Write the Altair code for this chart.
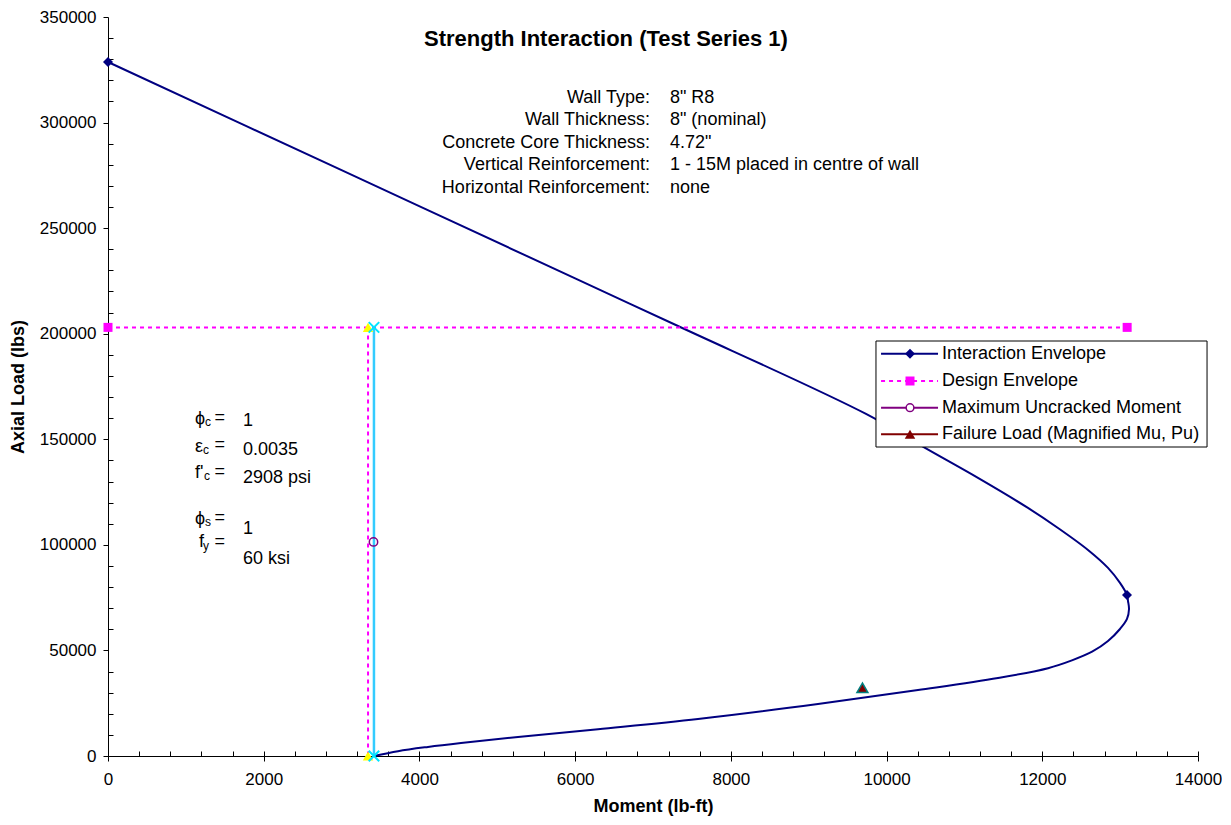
import altair as alt
import pandas as pd

# ---------------- data ----------------
env_moment = [0, 3000, 6000, 7321, 9736, 10494, 11174, 11816, 12202, 12587, 12844, 12998, 13088,
              13101, 13114, 13088, 12998, 12844, 12640, 12380, 12074, 11431, 10404, 9119, 7578,
              6294, 5266, 4534, 4110, 3725, 3416]
env_load = [328700, 277450, 226200, 203650, 162000, 145900, 131700, 117500, 108000, 97600,
            89100, 82000, 76250, 73400, 69600, 64900, 60150, 54450, 49400, 45300, 41600, 36950,
            31260, 24630, 17520, 12700, 9000, 6150, 4300, 2300, 0]
env_marker_moment = [0, 13088]
env_marker_load = [328700, 76250]

design_moment = [0, 13090]
design_load = [203000, 203000]

applied_moment = [3340, 3340]
applied_load = [203000, 0]

capacity_moment = [3416, 3416]
capacity_load = [203000, 0]

uncracked_moment = [3410]
uncracked_load = [101400]

failure_moment = [9690]
failure_load = [32300]

x_major = list(range(0, 14001, 2000))
x_minor = list(range(0, 14001, 400))
y_major = list(range(0, 350001, 50000))
y_minor = [v for v in range(0, 350001, 10000) if v % 50000]

title_text = "Strength Interaction (Test Series 1)"
info_labels = ["Wall Type:", "Wall Thickness:", "Concrete Core Thickness:",
               "Vertical Reinforcement:", "Horizontal Reinforcement:"]
info_values = ['8" R8', '8" (nominal)', '4.72"', "1 - 15M placed in centre of wall", "none"]
info_rows = [311636, 301216, 290323, 279904, 269010]

sym_main = ["ϕ", "ε", "f'", "ϕ", "f"]
sym_sub = ["c", "c", "c", "s", "y"]
sym_main_x = [1117, 1117, 1117, 1117, 1169]
sym_main_y = [159607, 146345, 134032, 112246, 101353]
sym_sub_x = [1246, 1220, 1233, 1246, 1220]
sym_sub_y = [158186, 144925, 132611, 110825, 99458]
sym_eq_y = [160080, 147293, 134505, 112719, 101353]
sym_vals = ["1", "0.0035", "2908 psi", "1", "60 ksi"]
sym_val_y = [158659, 144925, 131664, 107509, 93301]

legend_names = ["Interaction Envelope", "Design Envelope", "Maximum Uncracked Moment",
                "Failure Load (Magnified Mu, Pu)"]
legend_rows = [190533, 177604, 164958, 152360]

# ---------------- styles ----------------
NAVY = "#000080"
MAG = "#FF00FF"
PURPLE = "#800080"
DRED = "#800000"
TEAL = "#008080"
YEL = "#FFFF00"
CYAN = "#33CCFF"
XCYAN = "#00E5FF"
FONT = "Liberation Sans"
W, H = 1090, 739

xs = alt.Scale(domain=[0, 14000], nice=False, zero=False)
ys = alt.Scale(domain=[0, 350000], nice=False, zero=False)


def enc(x="m", y="p", xaxis=None, yaxis=None):
    return dict(x=alt.X(x, type="quantitative", scale=xs, axis=xaxis),
                y=alt.Y(y, type="quantitative", scale=ys, axis=yaxis))


common = dict(grid=False, domainColor="black", domainWidth=1, tickColor="black", tickWidth=1,
              labelFont=FONT, labelFontSize=17, labelColor="black", titleFont=FONT,
              titleFontSize=18, titleFontWeight="bold", titleColor="black",
              labelFlush=False, labelOverlap=False)
x_axis = alt.Axis(orient="bottom", values=x_major, format="d", title="Moment (lb-ft)",
                  tickSize=5, labelPadding=10, titlePadding=10, **common)
y_axis = alt.Axis(orient="left", values=y_major, format="d", title="Axial Load (lbs)",
                  tickSize=5, labelPadding=7, titlePadding=12, **common)
x_axis_minor = alt.Axis(orient="top", offset=-H, values=x_minor, labels=False, domain=False,
                        tickSize=5, tickColor="black", tickWidth=1, grid=False, title=None)
y_axis_minor = alt.Axis(orient="right", offset=-W, values=y_minor, labels=False, domain=False,
                        tickSize=5, tickColor="black", tickWidth=1, grid=False, title=None)


def df(m, p, **extra):
    d = pd.DataFrame({"m": m, "p": p})
    for k, v in extra.items():
        d[k] = v
    return d


layers = []

# envelope line (carries main axes)
env_df = df(env_moment, env_load, o=list(range(len(env_moment))))
layers.append(alt.Chart(env_df).mark_line(color=NAVY, strokeWidth=2, interpolate="catmull-rom")
              .encode(**enc(xaxis=x_axis, yaxis=y_axis), order="o:Q"))
# design envelope
layers.append(alt.Chart(df(design_moment, design_load, o=[0, 1])).mark_line(
    color=MAG, strokeWidth=2, strokeDash=[4, 4]).encode(**enc(), order="o:Q"))
# applied load vertical
layers.append(alt.Chart(df(applied_moment, applied_load, o=[0, 1])).mark_line(
    color=MAG, strokeWidth=2, strokeDash=[4, 4]).encode(**enc(), order="o:Q"))
# capacity vertical
layers.append(alt.Chart(df(capacity_moment, capacity_load, o=[0, 1])).mark_line(
    color=CYAN, strokeWidth=2.5).encode(**enc(), order="o:Q"))
# markers
layers.append(alt.Chart(df(env_marker_moment, env_marker_load)).mark_point(
    shape="diamond", filled=True, color=NAVY, size=100, opacity=1).encode(**enc()))
layers.append(alt.Chart(df(design_moment, design_load)).mark_point(
    shape="square", filled=True, color=MAG, size=81, opacity=1).encode(**enc()))
layers.append(alt.Chart(df(applied_moment, applied_load)).mark_point(
    shape="triangle-up", filled=True, color=YEL, size=110, opacity=1).encode(**enc()))
layers.append(alt.Chart(df(capacity_moment, capacity_load)).mark_point(
    shape="M-1,-1L1,1M-1,1L1,-1", filled=False, color=XCYAN, strokeWidth=2, size=110,
    opacity=1).encode(**enc()))
layers.append(alt.Chart(df(uncracked_moment, uncracked_load)).mark_point(
    shape="circle", filled=False, color=PURPLE, strokeWidth=1.5, size=70, opacity=1)
    .encode(**enc()))
# failure load (carries minor-tick axes)
layers.append(alt.Chart(df(failure_moment, failure_load)).mark_point(
    shape="triangle-up", filled=True, fill=DRED, stroke=TEAL, strokeWidth=1.5, size=120,
    opacity=1).encode(**enc(xaxis=x_axis_minor, yaxis=y_axis_minor)))

# ---------------- annotations ----------------
def text_layer(data, size, align, bold=False, color="black"):
    return alt.Chart(data).mark_text(font=FONT, fontSize=size, align=align, baseline="middle",
                                     fontWeight="bold" if bold else "normal", color=color
                                     ).encode(**enc(), text="t:N")

layers.append(text_layer(df([6396], [339600], t=[title_text]), 22, "center", bold=True))
layers.append(text_layer(df([6961] * 5, info_rows, t=info_labels), 18, "right"))
layers.append(text_layer(df([7218] * 5, info_rows, t=info_values), 18, "left"))
layers.append(text_layer(df(sym_main_x, sym_main_y, t=sym_main), 18, "left"))
layers.append(text_layer(df(sym_sub_x, sym_sub_y, t=sym_sub), 12, "left"))
layers.append(text_layer(df([1503] * 5, sym_eq_y, t=["="] * 5), 18, "right"))
layers.append(text_layer(df([1734] * 5, sym_val_y, t=sym_vals), 18, "left"))

# ---------------- legend ----------------
box = pd.DataFrame({"m": [9864], "m2": [14116], "p": [146345], "p2": [196548]})
layers.append(alt.Chart(box).mark_rect(fill="white", stroke="black", strokeWidth=1).encode(
    x=alt.X("m:Q", scale=xs, axis=None), x2="m2:Q",
    y=alt.Y("p:Q", scale=ys, axis=None), y2="p2:Q"))

leg_colors = [NAVY, MAG, PURPLE, DRED]
for i, (name, row, col) in enumerate(zip(legend_names, legend_rows, leg_colors)):
    seg = pd.DataFrame({"m": [9929], "m2": [10661], "p": [row]})
    rule_kw = dict(color=col, strokeWidth=2)
    if i == 1:
        rule_kw["strokeDash"] = [4, 4]
    layers.append(alt.Chart(seg).mark_rule(**rule_kw).encode(
        x=alt.X("m:Q", scale=xs, axis=None), x2="m2:Q",
        y=alt.Y("p:Q", scale=ys, axis=None)))
    pt = df([10301], [row])
    if i == 0:
        mk = alt.Chart(pt).mark_point(shape="diamond", filled=True, color=col, size=100, opacity=1)
    elif i == 1:
        mk = alt.Chart(pt).mark_point(shape="square", filled=True, color=col, size=81, opacity=1)
    elif i == 2:
        mk = alt.Chart(pt).mark_point(shape="circle", filled=False, color=col, fill="white",
                                      strokeWidth=1.5, size=60, opacity=1)
    else:
        mk = alt.Chart(pt).mark_point(shape="triangle-up", filled=True, color=col, size=110,
                                      opacity=1)
    layers.append(mk.encode(**enc()))
    layers.append(text_layer(df([10712], [row], t=[name]), 18, "left"))

chart = alt.layer(*layers).resolve_axis(x="independent", y="independent").properties(
    width=W, height=H,
    autosize=alt.AutoSizeParams(type="none"),
    padding={"left": 100, "top": 9, "right": 24, "bottom": 61},
    background="white",
).configure_view(strokeWidth=0)

chart.save("out.html", embed_options={"renderer": "svg", "actions": False})
